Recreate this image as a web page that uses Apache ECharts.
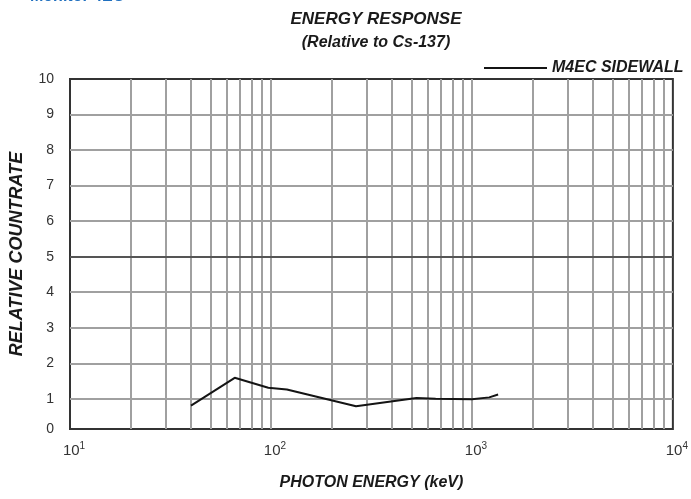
<!DOCTYPE html>
<html>
<head>
<meta charset="utf-8">
<script src="https://cdn.jsdelivr.net/npm/echarts@6/dist/echarts.min.js"></script>
<style>html,body{margin:0;padding:0;background:#fff;}#c{width:691px;height:499px;}</style>
</head>
<body>
<div id="c"></div>
<script>
// ---- data ----
const energyKeV = [40, 66, 97, 120, 265, 530, 660, 1000, 1220, 1350];
const relCountrate = [0.81, 1.59, 1.31, 1.26, 0.79, 1.02, 1.0, 0.99, 1.04, 1.12];
const seriesName = 'M4EC SIDEWALL';
const yTicks = [0, 1, 2, 3, 4, 5, 6, 7, 8, 9, 10];
const yGridValues = [1, 2, 3, 4, 6, 7, 8, 9];
const yBoldGridValues = [5];
const xMinorGrid = [20, 30, 40, 50, 60, 70, 80, 90, 100, 200, 300, 400, 500, 600, 700, 800, 900, 1000, 2000, 3000, 4000, 5000, 6000, 7000, 8000, 9000];
const xTicks = [10, 100, 1000, 10000];
const titleText = 'ENERGY RESPONSE';
const subtitleText = '(Relative to Cs-137)';
const xName = 'PHOTON ENERGY (keV)';
const yName = 'RELATIVE COUNTRATE';
const headerText = 'Monitor 4EC';

const yFloor = 0.15; // scanned chart: bottom frame sits slightly above the "0" grid position
const yLabelPos = yTicks.map(v => (v === 0 ? yFloor : v));

const chart = echarts.init(document.getElementById('c'), null, {renderer: 'canvas'});
const FONT = '"Liberation Sans", Arial, sans-serif';

const option = {
  backgroundColor: '#fff',
  animation: false,
  title: [
    {text: titleText, left: 371, top: 6, textAlign: 'center',
     textStyle: {fontFamily: FONT, fontSize: 17, fontWeight: 'bold', fontStyle: 'italic', color: '#1a1a1a'}},
    {text: subtitleText, left: 371, top: 30, textAlign: 'center',
     textStyle: {fontFamily: FONT, fontSize: 16, fontWeight: 'bold', fontStyle: 'italic', color: '#1a1a1a'}}
  ],
  graphic: [
    {type: 'text', left: 30, top: -11,
     style: {text: headerText, fontFamily: FONT, fontSize: 16, fontWeight: 'bold', fill: '#1f6fbf'}}
  ],
  legend: {
    left: 479, top: 55,
    data: [seriesName],
    icon: 'rect', itemWidth: 63, itemHeight: 2, itemGap: 11,
    textStyle: {fontFamily: FONT, fontSize: 16, fontWeight: 'bold', fontStyle: 'italic', color: '#1a1a1a'}
  },
  grid: {left: 69, right: 16, top: 79, bottom: 70, show: true, borderColor: '#333', borderWidth: 2, backgroundColor: 'transparent'},
  xAxis: {
    type: 'log', logBase: 10, min: 10, max: 10000,
    name: xName, nameLocation: 'middle', nameGap: 46,
    nameTextStyle: {fontFamily: FONT, fontSize: 16, fontWeight: 'bold', fontStyle: 'italic', color: '#1a1a1a'},
    axisLine: {show: false}, axisTick: {show: false}, splitLine: {show: false},
    axisLabel: {
      margin: 12, color: '#333', fontFamily: FONT, fontSize: 15,
      formatter: v => '{b|10}{s|' + Math.round(Math.log10(v)) + '}',
      rich: {b: {fontFamily: FONT, fontSize: 15, color: '#333', padding: [0, 0, 0, 8]},
             s: {fontFamily: FONT, fontSize: 10, color: '#333', padding: [0, 0, 10, 0]}}
    }
  },
  yAxis: {
    type: 'value', min: yFloor, max: 10,
    name: yName, nameLocation: 'middle', nameGap: 44, nameRotate: 90,
    nameTextStyle: {fontFamily: FONT, fontSize: 18, fontWeight: 'bold', fontStyle: 'italic', color: '#1a1a1a'},
    axisLine: {show: false},
    axisTick: {show: false, customValues: yLabelPos},
    splitLine: {show: false},
    axisLabel: {
      customValues: yLabelPos, margin: 16, color: '#333', fontFamily: FONT, fontSize: 14,
      formatter: v => String(Math.round(v))
    }
  },
  series: [
    {
      type: 'line', name: 'grid', data: [], z: 1, silent: true,
      markLine: {
        silent: true, symbol: 'none', animation: false, label: {show: false},
        data: [
          ...xMinorGrid.map(v => ({xAxis: v, lineStyle: {color: '#a0a0a0', width: 2, type: 'solid'}})),
          ...yGridValues.map(v => ({yAxis: v, lineStyle: {color: '#a0a0a0', width: 2, type: 'solid'}})),
          ...yBoldGridValues.map(v => ({yAxis: v, lineStyle: {color: '#555', width: 2, type: 'solid'}}))
        ]
      }
    },
    {
      type: 'line', name: seriesName, z: 5,
      data: energyKeV.map((e, i) => [e, relCountrate[i]]),
      showSymbol: false, symbol: 'none', smooth: false,
      lineStyle: {color: '#141414', width: 2},
      itemStyle: {color: '#141414'}
    }
  ]
};
chart.setOption(option);
</script>
</body>
</html>
